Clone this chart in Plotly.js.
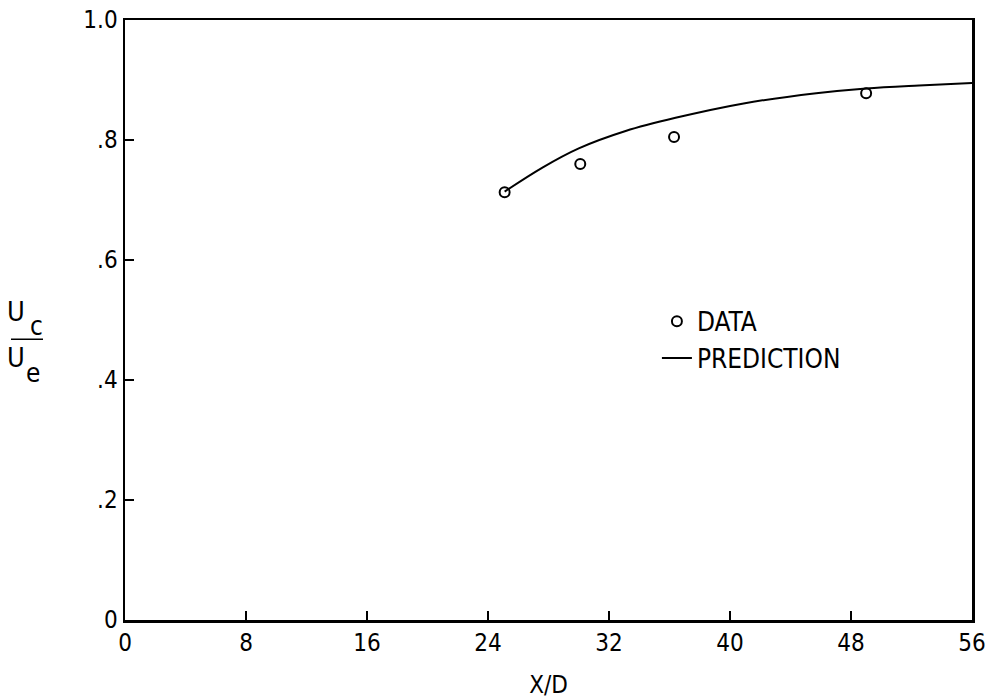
<!DOCTYPE html>
<html>
<head>
<meta charset="utf-8">
<script src="https://cdn.plot.ly/plotly-3.0.1.min.js"></script>
<style>html,body{margin:0;padding:0;background:#fff;}#chart{width:990px;height:699px;}</style>
</head>
<body>
<div id="chart"></div>
<script>
// Measured data (X/D vs Uc/Ue)
var dataX = [25.1, 30.1, 36.3, 49.0];
var dataY = [0.713, 0.760, 0.805, 0.878];

// Prediction curve
var predX = [25.1, 27.6, 30.0, 33.1, 36.4, 40.9, 45.7, 49.0, 52.5, 56.0];
var predY = [0.714, 0.754, 0.786, 0.815, 0.837, 0.861, 0.878, 0.886, 0.891, 0.895];

var xTickVals = [0, 8, 16, 24, 32, 40, 48, 56];
var xTickText = ['0', '8', '16', '24', '32', '40', '48', '56'];
var yTickVals = [0, 0.2, 0.4, 0.6, 0.8, 1.0];
var yTickText = ['0', '.2', '.4', '.6', '.8', '1.0'];

var FONT = '"DejaVu Sans Condensed", "Liberation Sans Narrow", "DejaVu Sans", sans-serif';

var traces = [
  {
    x: dataX, y: dataY, mode: 'markers', name: 'DATA',
    marker: {symbol: 'circle-open', size: 10, color: '#000', line: {width: 2, color: '#000'}},
    cliponaxis: false
  },
  {
    x: predX, y: predY, mode: 'lines', name: 'PREDICTION',
    line: {color: '#000', width: 2, shape: 'spline', smoothing: 1.0}
  }
];

function lbl(txt, px, py, size) {
  return {xref: 'paper', yref: 'paper', x: 0, y: (620 - py) / 600, xshift: px - 125,
          xanchor: 'center', yanchor: 'middle', text: txt, showarrow: false,
          font: {family: FONT, size: size, color: '#000'}};
}

var layout = {
  width: 990, height: 699,
  margin: {l: 125, r: 18, t: 20, b: 79},
  paper_bgcolor: '#fff', plot_bgcolor: '#fff',
  font: {family: FONT, size: 24, color: '#000'},
  showlegend: true,
  legend: {
    x: 0.628, y: 0.537, xanchor: 'left', yanchor: 'top',
    bgcolor: 'rgba(0,0,0,0)', borderwidth: 0,
    font: {family: FONT, size: 26, color: '#000'},
    tracegroupgap: 0, itemwidth: 30
  },
  xaxis: {
    range: [0, 56], showgrid: false, zeroline: false,
    showline: true, linecolor: '#000', linewidth: 2.5, mirror: true,
    ticks: 'inside', ticklen: 9, tickwidth: 2, tickcolor: '#000',
    tickvals: xTickVals, ticktext: xTickText,
    tickfont: {family: FONT, size: 24},
    title: {text: 'X/D', font: {family: FONT, size: 24}, standoff: 20}
  },
  yaxis: {
    range: [0, 1.0], showgrid: false, zeroline: false,
    showline: true, linecolor: '#000', linewidth: 2.5, mirror: true,
    ticks: 'inside', ticklen: 9, tickwidth: 2, tickcolor: '#000',
    tickvals: yTickVals, ticktext: yTickText,
    tickfont: {family: FONT, size: 24}
  },
  annotations: [
    lbl('U', 16, 311, 27),
    lbl('c', 36, 326, 26),
    lbl('U', 16, 357, 27),
    lbl('e', 33, 373, 26)
  ],
  shapes: [
    {type: 'line', xref: 'paper', yref: 'paper', x0: -0.1346, x1: -0.0968, y0: 0.468, y1: 0.468,
     line: {color: '#000', width: 1.5}}
  ]
};

Plotly.newPlot('chart', traces, layout, {displayModeBar: false, staticPlot: true});
</script>
</body>
</html>
